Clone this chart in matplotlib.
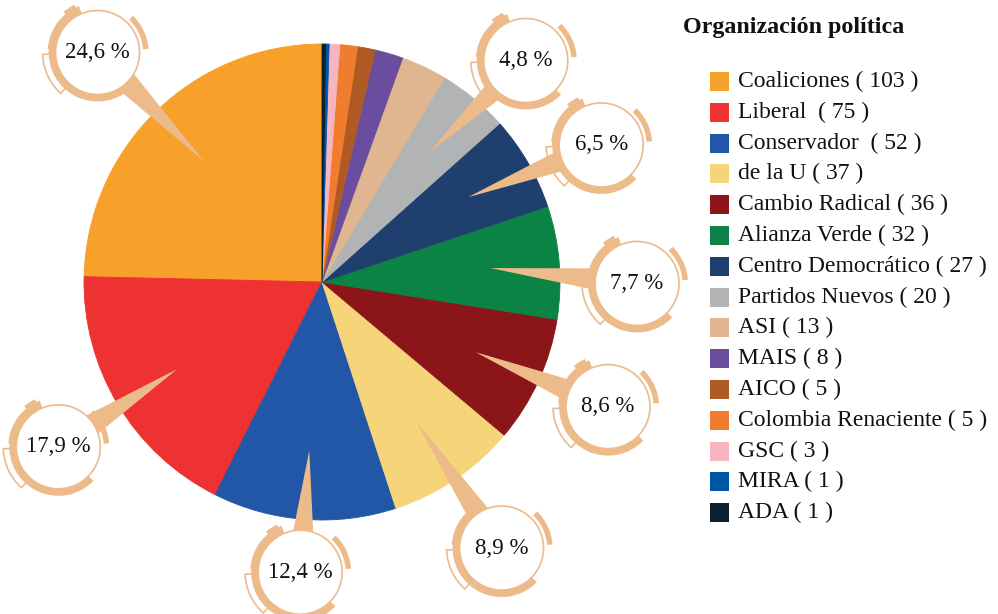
import numpy as np
import matplotlib.pyplot as plt
from matplotlib.patches import Circle, Wedge, Polygon, Rectangle

plt.rcParams['font.family'] = ['Liberation Serif', 'DejaVu Serif']

# Datos: escaños por organización política
partidos = ['Coaliciones', 'Liberal ', 'Conservador ', 'de la U', 'Cambio Radical',
            'Alianza Verde', 'Centro Democrático', 'Partidos Nuevos', 'ASI', 'MAIS',
            'AICO', 'Colombia Renaciente', 'GSC', 'MIRA', 'ADA']
escanos = [103, 75, 52, 37, 36, 32, 27, 20, 13, 8, 5, 5, 3, 1, 1]
colores = ['#F7A12B', '#EE3131', '#2257A8', '#F6D47A', '#8B1518',
           '#0A8345', '#1F3F6E', '#B1B3B4', '#DFB690', '#6A4D9E',
           '#AF5A24', '#EF7D2D', '#F7B5C0', '#0055A5', '#0D2030']
n_etiquetas = 8  # solo las 8 mayores llevan porcentaje

tan = '#EDBA8A'
total = sum(escanos)

fig = plt.figure(figsize=(9.98, 6.14), dpi=100)
ax = fig.add_axes([0, 0, 1, 1])

# pie en coordenadas de pixel (y hacia arriba)
cx, cy, r = 322, 332, 238
wedges, _ = ax.pie(escanos, colors=colores, startangle=90, counterclock=True,
                   center=(cx, cy), radius=r, wedgeprops=dict(linewidth=0.6))
for w in wedges:
    w.set_edgecolor(w.get_facecolor())
ax.set_xlim(0, 998)
ax.set_ylim(0, 614)
ax.set_aspect('equal')
ax.axis('off')

# ajustes de la posicion de cada globo (desfase de angulo, distancia)
ajustes = [(0, 321), (1, 311), (0, 291), (0, 321), (1, 312), (-5, 315), (-4, 311), (-3, 301)]

R = 42
for i in range(n_etiquetas):
    w = wedges[i]
    mid = np.deg2rad((w.theta1 + w.theta2) / 2)
    da, dist = ajustes[i]
    a = mid + np.deg2rad(da)
    px, py = cx + dist * np.cos(a), cy + dist * np.sin(a)
    tx, ty = cx + 0.71 * r * np.cos(mid), cy + 0.71 * r * np.sin(mid)

    # puntero (triangulo)
    vx, vy = tx - px, ty - py
    L = np.hypot(vx, vy)
    nx, ny = -vy / L, vx / L
    hw = 15
    ax.add_patch(Polygon([(px + nx * hw, py + ny * hw), (px - nx * hw, py - ny * hw), (tx, ty)],
                         closed=True, fc=tan, ec='none', zorder=4))

    # decoracion del anillo
    ax.add_patch(Wedge((px, py), R + 13, 182, 228, width=9, fc='white', ec=tan, lw=1.2, zorder=3))
    ax.add_patch(Wedge((px, py), R + 7, 174, 316, width=8, fc=tan, ec='none', zorder=3))
    ax.add_patch(Wedge((px, py), R + 9, 4, 46, width=5.5, fc=tan, ec='none', zorder=3))
    ax.add_patch(Wedge((px, py), R + 8, 112, 176, width=9, fc=tan, ec='none', zorder=3))
    ax.add_patch(Wedge((px, py), R + 11, 116, 130, width=11, fc=tan, ec='none', zorder=3))

    ax.add_patch(Circle((px, py), R, fc='white', ec=tan, lw=1.2, zorder=5))
    pct = f"{escanos[i] / total * 100:.1f}".replace('.', ',') + ' %'
    ax.text(px, py, pct, ha='center', va='center', fontsize=16.5, color='#111111', zorder=6)

# leyenda manual
ax.text(683, 614 - 27, 'Organización política', fontsize=17.3, fontweight='bold',
        ha='left', va='center', color='#111111')
for i, (p, v, c) in enumerate(zip(partidos, escanos, colores)):
    yc = 614 - (81.5 + 30.8 * i)
    ax.add_patch(Rectangle((710, yc - 9.5), 19, 19, fc=c, ec='none'))
    ax.text(738, yc, f'{p} ( {v} )', fontsize=17, ha='left', va='center', color='#111111')

fig.savefig('out.png', dpi=100)
